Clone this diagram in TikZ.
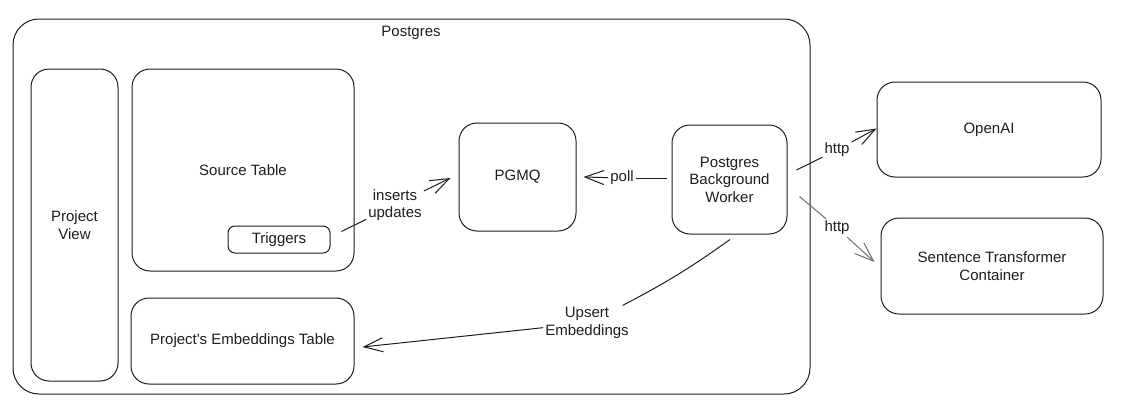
\documentclass[tikz,border=0pt]{standalone}
\usepackage{fontspec}
\setmainfont{Liberation Sans}
\usetikzlibrary{arrows.meta,calc}
\definecolor{ink}{HTML}{1E1E1E}
\definecolor{softink}{HTML}{6E6E6E}
\newcommand\dfont{\fontsize{15}{17.5}\selectfont}
\begin{document}
\begin{tikzpicture}[x=1pt,y=-1pt,
  box/.style={draw=ink, line width=1pt, rounded corners=18pt, inner sep=0pt, align=center, font=\dfont, text=ink},
  lbl/.style={inner sep=2pt, align=center, font=\dfont, text=ink},
  conn/.style={draw=ink, line width=1pt},
  arr/.style={conn, -{Straight Barb[length=19pt,width=14pt]}},
]
\fill[white] (0,0) rectangle (1124,413);
\useasboundingbox (0,0) rectangle (1124,413);

% outer Postgres container
\node[box, rounded corners=26pt, minimum width=797pt, minimum height=375pt] (pg) at (411.5,206.5) {};
\node[lbl] (pglab) at (411,33) {Postgres};

% inner boxes
\node[box, minimum width=87pt, minimum height=312pt] (pv) at (74.5,225) {Project\\View};
\node[box, minimum width=222pt, minimum height=202pt] (src) at (243,170) {Source Table};
\node[box, rounded corners=7pt, minimum width=102pt, minimum height=27pt] (trig) at (279,239.5) {Triggers};
\node[box, minimum width=223pt, minimum height=86pt] (emb) at (242.5,341) {Project\textquotesingle s Embeddings Table};
\node[box, minimum width=117pt, minimum height=108pt] (pgmq) at (517.5,177) {PGMQ};
\node[box, minimum width=115pt, minimum height=109pt] (bw) at (729.5,179.5) {Postgres\\Background\\Worker};

% external services
\node[box, minimum width=224pt, minimum height=95pt] (oai) at (989,129.5) {OpenAI};
\node[box, minimum width=222pt, minimum height=96pt] (stc) at (992,266) {Sentence Transformer\\Container};

% connector labels
\node[lbl] (ins) at (395,205) {inserts\\updates};
\node[lbl] (poll) at (622,178) {poll};
\node[lbl] (h1) at (837,150) {http};
\node[lbl] (h2) at (837,228) {http};
\node[lbl] (ups) at (587,323) {Upsert\\Embeddings};

% connectors
\draw[conn] ($(trig.east)+(11,-8)$) -- (ins);
\draw[arr] (ins) -- ($(pgmq.west)+(-8,1)$);

\draw[conn] ($(bw.west)+(-5,-1.5)$) -- (poll);
\draw[arr] (poll) -- ($(pgmq.east)+(7,0)$);

\draw[conn] ($(bw.east)+(9,-9.5)$) -- (h1);
\draw[arr] (h1) -- ($(oai.west)+(0,-1)$);

\draw[conn, draw=softink] ($(bw.east)+(12,17)$) -- (h2);
\draw[arr, draw=softink] (h2) -- ($(stc.west)+(-6,-4)$);

\draw[conn] ($(bw.south)+(0.5,5)$) to[bend left=4] (ups);
\draw[arr] (ups) -- ($(emb.east)+(8,6)$);
\end{tikzpicture}
\end{document}
